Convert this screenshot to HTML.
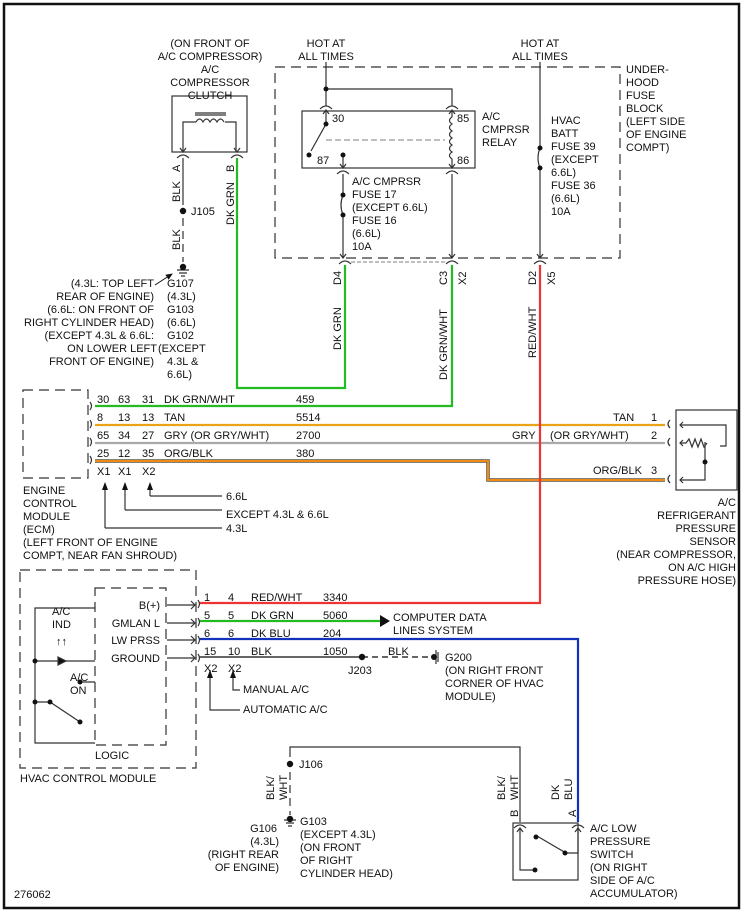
<!DOCTYPE html>
<html><head><style>
body{margin:0;background:#fff}
svg{display:block}
text{font-family:"Liberation Sans",Arial,sans-serif;font-size:11px;fill:#111}
</style></head><body>
<svg width="747" height="917" viewBox="0 0 747 917" xmlns="http://www.w3.org/2000/svg">
<defs>
<marker id="ah" markerWidth="8" markerHeight="8" refX="6" refY="4" orient="auto"><path d="M0,1 L7,4 L0,7z" fill="#111"/></marker>
</defs>
<rect x="4" y="4" width="735" height="904" fill="none" stroke="#111" stroke-width="2.5"/>
<g stroke="#333" fill="none" stroke-width="1.2">
<rect x="172" y="96" width="75" height="56"/>
<path d="M183,152 V122 H196 M236,152 V122 H225"/>
<path d="M196,122 q3.5,-6 7,0 q3.5,-6 7,0 q3.5,-6 7,0 q3.5,-6 7,0"/>
<path d="M195,113 H226 M195,115 H226"/>
<path d="M180,148 L183,152 L186,148 M234,148 L237,152 L240,148"/>
<path d="M177,158 q6,-6 12,0 M231,158 q6,-6 12,0"/>
<path d="M183,158 V205"/>
<path d="M183,218 V262" stroke-dasharray="8,5"/>
<path d="M177,270 H189 M179,273 H187 M181,276 H185"/>
<rect x="275" y="67" width="345" height="191" stroke-dasharray="10,6"/>
<path d="M326,62 V106 M326,89 H452 V106"/>
<path d="M320,109 q6,-6 12,0 M446,109 q6,-6 12,0"/>
<rect x="302" y="111" width="173" height="57"/>
<path d="M326,110 V124 L311,151 M323,114 L326,110 L329,114"/>
<path d="M326,140 H445" stroke-dasharray="6,3" stroke="#999"/>
<path d="M452,110 V117 M449,114 L452,110 L455,114"/>
<path d="M452,117 q-5,3.5 0,7 q-5,3.5 0,7 q-5,3.5 0,7 q-5,3.5 0,7 q-5,3.5 0,7 q-5,3.5 0,7 V168"/>
<path d="M449,164 L452,168 L455,164 M343,155 V168 M340,164 L343,168 L346,164"/>
<path d="M337,174 q6,-6 12,0 M446,174 q6,-6 12,0"/>
<path d="M343,174 V195 M343,215 V258 M452,174 V258 M340,254 L343,258 L346,254 M449,254 L452,258 L455,254"/>
<path d="M343,195 q-4,10 0,20"/>
<path d="M540,62 V148 M540,168 V258 M537,254 L540,258 L543,254 M540,148 q-4,10 0,20"/>
<path d="M339,264 q6,-6 12,0 M446,264 q6,-6 12,0 M534,264 q6,-6 12,0"/>
<path d="M351,262 H446" stroke="#999" stroke-dasharray="4,2"/>
<rect x="23" y="390" width="65" height="88" stroke-dasharray="10,6"/>
<path d="M90,402 q3,4 0,8 M90,420 q3,4 0,8 M90,438 q3,4 0,8 M90,456 q3,4 0,8"/>
<path d="M105,528 V484 M125,510 V484 M150,496 V484 M105,528 H222 M125,510 H222 M150,496 H222"/>
<rect x="676" y="410" width="61" height="80"/>
<path d="M670,420 q-4,4 0,8 M670,438 q-4,4 0,8 M670,475 q-4,4 0,8"/>
<path d="M680,425 H726 V446 H720 M680,443 H686 l3,-4 l3,8 l3,-8 l3,8 l3,-8 l3,8 l3,-4 M705,442 V480 H680"/>
<path d="M683,422 L680,425 L683,428 M683,440 L680,443 L683,446 M683,477 L680,480 L683,483"/>
<rect x="20" y="570" width="176" height="198" stroke-dasharray="10,6"/>
<rect x="95" y="588" width="71" height="157" stroke-dasharray="10,6"/>
<path d="M167,605 H195 M167,623 H195 M167,640 H195 M167,658 H195"/>
<path d="M191,601 L195,605 L191,609 M191,619 L195,623 L191,627 M191,636 L195,640 L191,644 M191,654 L195,658 L191,662"/>
<path d="M198,600 q3,4 0,8 M198,618 q3,4 0,8 M198,636 q3,4 0,8 M198,654 q3,4 0,8"/>
<path d="M95,608 H35 V743 H95 M35,661 H95 M35,702 H50 L80,722 M80,682 H95"/>
<path d="M58,657 V665 M58,657 L66,661 L58,665z" fill="#111"/>
<path d="M210,684 V670 M233,670 V690 H240 M210,684 V710 H240"/>
<path d="M290,757 V747 H520 V822 M578,822 V640"/>
<path d="M290,772 V815" stroke-dasharray="8,5"/>
<path d="M284,820 H296 M286,823 H294 M288,826 H292"/>
<path d="M514,828 q6,-6 12,0 M572,828 q6,-6 12,0"/>
<rect x="513" y="823" width="65" height="57"/>
<path d="M520,828 V870 H535 M578,828 V853 H566 L537,836"/>
<path d="M517,832 L520,828 L523,832 M575,832 L578,828 L581,832"/>
<path d="M436,650 V664 M438,652 V662"/>
</g>
<g fill="none" stroke-width="2.2">
<path d="M237,158 V388 H345 V265" stroke="#22bb22"/>
<path d="M95,406 H452 V265" stroke="#22bb22"/>
<path d="M95,425 H665" stroke="#e8a317"/>
<path d="M95,443 H665" stroke="#aaaaaa"/>
<path d="M95,461 H488 V480 H665" stroke="#555" stroke-width="3.5"/>
<path d="M95,461 H488 V480 H665" stroke="#f08a10" stroke-width="2"/>
<path d="M540,265 V603 H200" stroke="#ee3333"/>
<path d="M200,621 H380" stroke="#22bb22"/>
<path d="M200,639 H578 V822" stroke="#1133bb"/>
<path d="M200,657 H362" stroke="#333" stroke-width="1.5"/>
<path d="M362,657 H432" stroke="#333" stroke-width="1.5" stroke-dasharray="6,4"/>
</g>
<path d="M380,615 L390,621 L380,627z" fill="#111"/>
<path d="M155,285 L172,274" stroke="#111" marker-end="url(#ah)"/>
<g fill="#111">
<circle cx="183" cy="211" r="3.2"/><circle cx="183" cy="267" r="3.2"/>
<circle cx="326" cy="89" r="2.5"/><circle cx="326" cy="124" r="2.5"/><circle cx="309" cy="155" r="2.5"/><circle cx="343" cy="155" r="2.5"/>
<circle cx="343" cy="195" r="2.5"/><circle cx="343" cy="215" r="2.5"/><circle cx="540" cy="148" r="2.5"/><circle cx="540" cy="168" r="2.5"/>
<circle cx="705" cy="462" r="2.5"/>
<circle cx="35" cy="661" r="2.5"/><circle cx="35" cy="702" r="2.5"/><circle cx="50" cy="702" r="2.5"/><circle cx="80" cy="682" r="2.5"/><circle cx="80" cy="722" r="2.5"/>
<circle cx="362" cy="657" r="3.2"/><circle cx="434" cy="657" r="3"/>
<circle cx="290" cy="764" r="3.2"/><circle cx="290" cy="819" r="3.2"/>
<circle cx="536" cy="837" r="2.5"/><circle cx="565" cy="853" r="2.5"/><circle cx="535" cy="870" r="2.5"/>
<path d="M102,490 L105,482 L108,490z M122,490 L125,482 L128,490z M147,490 L150,482 L153,490z M207,678 L210,670 L213,678z M230,678 L233,670 L236,678z"/>
</g>
<g text-anchor="middle">
<text x="210" y="47">(ON FRONT OF</text><text x="210" y="60">A/C COMPRESSOR)</text><text x="210" y="73">A/C</text><text x="210" y="86">COMPRESSOR</text><text x="210" y="99">CLUTCH</text>
<text x="326" y="47">HOT AT</text><text x="326" y="60">ALL TIMES</text>
<text x="540" y="47">HOT AT</text><text x="540" y="60">ALL TIMES</text>
</g>
<text x="191" y="215">J105</text>
<text x="332" y="122">30</text><text x="457" y="122">85</text><text x="317" y="164">87</text><text x="457" y="164">86</text>
<text x="482" y="120">A/C</text><text x="482" y="133">CMPRSR</text><text x="482" y="146">RELAY</text>
<text x="352" y="185">A/C CMPRSR</text><text x="352" y="198">FUSE 17</text><text x="352" y="211">(EXCEPT 6.6L)</text><text x="352" y="224">FUSE 16</text><text x="352" y="237">(6.6L)</text><text x="352" y="250">10A</text>
<text x="551" y="124">HVAC</text><text x="551" y="137">BATT</text><text x="551" y="150">FUSE 39</text><text x="551" y="163">(EXCEPT</text><text x="551" y="176">6.6L)</text><text x="551" y="189">FUSE 36</text><text x="551" y="202">(6.6L)</text><text x="551" y="215">10A</text>
<text x="626" y="73">UNDER-</text><text x="626" y="86">HOOD</text><text x="626" y="99">FUSE</text><text x="626" y="112">BLOCK</text><text x="626" y="125">(LEFT SIDE</text><text x="626" y="138">OF ENGINE</text><text x="626" y="151">COMPT)</text>
<g text-anchor="end">
<text x="154" y="287">(4.3L: TOP LEFT</text><text x="154" y="300">REAR OF ENGINE)</text><text x="154" y="313">(6.6L: ON FRONT OF</text><text x="154" y="326">RIGHT CYLINDER HEAD)</text><text x="154" y="339">(EXCEPT 4.3L &amp; 6.6L:</text><text x="157" y="352">ON LOWER LEFT</text><text x="154" y="365">FRONT OF ENGINE)</text>
</g>
<text x="167" y="287">G107</text><text x="167" y="300">(4.3L)</text><text x="167" y="313">G103</text><text x="167" y="326">(6.6L)</text><text x="167" y="339">G102</text><text x="158" y="352">(EXCEPT</text><text x="167" y="365">4.3L &amp;</text><text x="167" y="378">6.6L)</text>
<g>
<text transform="translate(180,172) rotate(-90)">A</text>
<text transform="translate(180,202) rotate(-90)">BLK</text>
<text transform="translate(180,250) rotate(-90)">BLK</text>
<text transform="translate(234,172) rotate(-90)">B</text>
<text transform="translate(234,225) rotate(-90)">DK GRN</text>
<text transform="translate(341,285) rotate(-90)">D4</text>
<text transform="translate(341,350) rotate(-90)">DK GRN</text>
<text transform="translate(447,285) rotate(-90)">C3</text>
<text transform="translate(466,285) rotate(-90)">X2</text>
<text transform="translate(447,380) rotate(-90)">DK GRN/WHT</text>
<text transform="translate(536,285) rotate(-90)">D2</text>
<text transform="translate(555,285) rotate(-90)">X5</text>
<text transform="translate(536,358) rotate(-90)">RED/WHT</text>
<text transform="translate(274,800) rotate(-90)">BLK/</text>
<text transform="translate(287,800) rotate(-90)">WHT</text>
<text transform="translate(505,800) rotate(-90)">BLK/</text>
<text transform="translate(518,800) rotate(-90)">WHT</text>
<text transform="translate(518,817) rotate(-90)">B</text>
<text transform="translate(559,800) rotate(-90)">DK</text>
<text transform="translate(572,800) rotate(-90)">BLU</text>
<text transform="translate(576,817) rotate(-90)">A</text>
</g>
<text x="97" y="403">30</text><text x="118" y="403">63</text><text x="142" y="403">31</text><text x="164" y="403">DK GRN/WHT</text><text x="296" y="403">459</text>
<text x="97" y="421">8</text><text x="118" y="421">13</text><text x="142" y="421">13</text><text x="164" y="421">TAN</text><text x="296" y="421">5514</text>
<text x="97" y="439">65</text><text x="118" y="439">34</text><text x="142" y="439">27</text><text x="164" y="439">GRY (OR GRY/WHT)</text><text x="296" y="439">2700</text>
<text x="97" y="457">25</text><text x="118" y="457">12</text><text x="142" y="457">35</text><text x="164" y="457">ORG/BLK</text><text x="296" y="457">380</text>
<text x="97" y="475">X1</text><text x="118" y="475">X1</text><text x="142" y="475">X2</text>
<text x="226" y="500">6.6L</text><text x="226" y="518">EXCEPT 4.3L &amp; 6.6L</text><text x="226" y="532">4.3L</text>
<text x="23" y="494">ENGINE</text><text x="23" y="507">CONTROL</text><text x="23" y="520">MODULE</text><text x="23" y="533">(ECM)</text><text x="23" y="546">(LEFT FRONT OF ENGINE</text><text x="23" y="559">COMPT, NEAR FAN SHROUD)</text>
<text x="613" y="421">TAN</text><text x="651" y="421">1</text>
<text x="512" y="439">GRY</text><text x="550" y="439">(OR GRY/WHT)</text><text x="651" y="439">2</text>
<text x="593" y="474">ORG/BLK</text><text x="651" y="474">3</text>
<g text-anchor="end">
<text x="736" y="506">A/C</text><text x="736" y="519">REFRIGERANT</text><text x="736" y="532">PRESSURE</text><text x="736" y="545">SENSOR</text><text x="736" y="558">(NEAR COMPRESSOR,</text><text x="736" y="571">ON A/C HIGH</text><text x="736" y="584">PRESSURE HOSE)</text>
<text x="160" y="609">B(+)</text><text x="160" y="627">GMLAN L</text><text x="160" y="644">LW PRSS</text><text x="160" y="662">GROUND</text>
<text x="277" y="832">G106</text><text x="279" y="845">(4.3L)</text><text x="279" y="858">(RIGHT REAR</text><text x="279" y="871">OF ENGINE)</text>
</g>
<text x="52" y="615">A/C</text><text x="52" y="628">IND</text><text x="56" y="645" font-size="8">↑↑</text>
<text x="70" y="681">A/C</text><text x="70" y="694">ON</text>
<text x="95" y="759">LOGIC</text>
<text x="20" y="782">HVAC CONTROL MODULE</text>
<text x="204" y="601">1</text><text x="228" y="601">4</text><text x="251" y="601">RED/WHT</text><text x="323" y="601">3340</text>
<text x="204" y="619">5</text><text x="228" y="619">5</text><text x="251" y="619">DK GRN</text><text x="323" y="619">5060</text>
<text x="204" y="637">6</text><text x="228" y="637">6</text><text x="251" y="637">DK BLU</text><text x="323" y="637">204</text>
<text x="204" y="655">15</text><text x="228" y="655">10</text><text x="251" y="655">BLK</text><text x="323" y="655">1050</text>
<text x="393" y="621">COMPUTER DATA</text><text x="393" y="634">LINES SYSTEM</text>
<text x="388" y="655">BLK</text>
<text x="348" y="674">J203</text>
<text x="445" y="661">G200</text><text x="445" y="674">(ON RIGHT FRONT</text><text x="445" y="687">CORNER OF HVAC</text><text x="445" y="700">MODULE)</text>
<text x="204" y="672">X2</text><text x="228" y="672">X2</text>
<text x="243" y="693">MANUAL A/C</text><text x="243" y="713">AUTOMATIC A/C</text>
<text x="299" y="768">J106</text>
<text x="300" y="825">G103</text><text x="300" y="838">(EXCEPT 4.3L)</text><text x="300" y="851">(ON FRONT</text><text x="300" y="864">OF RIGHT</text><text x="300" y="877">CYLINDER HEAD)</text>
<text x="590" y="832">A/C LOW</text><text x="590" y="845">PRESSURE</text><text x="590" y="858">SWITCH</text><text x="590" y="871">(ON RIGHT</text><text x="590" y="884">SIDE OF A/C</text><text x="590" y="897">ACCUMULATOR)</text>
<text x="14" y="898">276062</text>
</svg>
</body></html>
